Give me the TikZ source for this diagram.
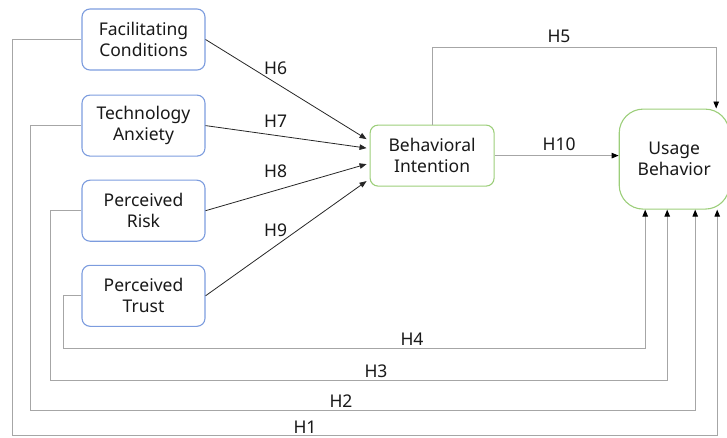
\documentclass[tikz,border=0pt]{standalone}
\usepackage{fontspec}
\setmainfont{Noto Sans}
\usetikzlibrary{arrows.meta, positioning, calc}

\definecolor{boxblue}{RGB}{124,156,222}
\definecolor{boxgreen}{RGB}{156,206,122}
\definecolor{linegray}{RGB}{166,166,166}

\begin{document}
\begin{tikzpicture}[
    x=1pt, y=1pt,
    construct/.style={rectangle, draw=boxblue, line width=1.1pt, rounded corners=8pt, minimum width=123pt, minimum height=61pt, font=\fontsize{17.5}{21}\selectfont, align=center, inner sep=2pt, text=black!90},
    outcome/.style={construct, draw=boxgreen, minimum width=124pt},
    direct/.style={-{Triangle[length=7pt,width=5.5pt]}, line width=0.8pt, black!85},
    fb/.style={-{Triangle[length=7pt,width=5.5pt,color=black]}, line width=0.9pt, linegray},
    hyp/.style={font=\fontsize{17.5}{20}\selectfont, inner sep=0pt, text=black!90}
]
\useasboundingbox (0,0) rectangle (727,-438);

% Antecedents
\node[construct] (fac) at (143.5,-39.5) {Facilitating\\Conditions};
\node[construct, below=24pt of fac] (anx) {Technology\\Anxiety};
\node[construct, below=23pt of anx] (risk) {Perceived\\Risk};
\node[construct, below=23pt of risk] (trust) {Perceived\\Trust};

% Intention
\node[outcome, right=164pt of anx, yshift=-30pt] (intent) {Behavioral\\Intention};

% Usage
\node[outcome, right=124pt of intent, yshift=-3.5pt, minimum width=110pt, minimum height=100pt, rounded corners=24pt] (usage) {Usage\\Behavior};

% Arrows to intention
\draw[direct] (fac.east) -- ([xshift=-3pt,yshift=16.5pt]intent.west) node[hyp, pos=0.435, above=8pt] (h6) {H6};
\draw[direct] (anx.east) -- ([xshift=-3pt,yshift=7.5pt]intent.west) node[hyp, pos=0.435, above=7pt] (h7) {H7};
\draw[direct] (risk.east) -- ([xshift=-3pt,yshift=-8.5pt]intent.west) node[hyp, pos=0.435, above=12pt] (h8) {H8};
\draw[direct] (trust.east) -- ([xshift=-3pt,yshift=-25.5pt]intent.west) node[hyp, pos=0.435, above=9pt] (h9) {H9};

% Intention to usage
\draw[fb] (intent.east) -- (intent.east -| usage.west) node[hyp, pos=0.52, above=4pt] (h10) {H10};
\draw[fb] (intent.north) -- ++(0,77) -| ([xshift=42pt]usage.north);
\node[hyp, above=4pt] (h5) at (559,-47) {H5};

% Direct paths to usage
\draw[fb] (fac.west) -| ++(-69,-396) -| ([xshift=43pt]usage.south);
\draw[fb] (anx.west) -| ++(-51,-284.5) -| ([xshift=21pt]usage.south);
\draw[fb] (risk.west) -| ++(-31,-169.5) -| ([xshift=-7pt]usage.south);
\draw[fb] (trust.west) -| ++(-18,-52.5) -| ([xshift=-29pt]usage.south);

% Labels
\node[hyp, anchor=south] (h1) at (305,-433.5) {H1};
\node[hyp, anchor=south] (h2) at (341,-408) {H2};
\node[hyp, anchor=south] (h3) at (376,-378) {H3};
\node[hyp, anchor=south] (h4) at (412,-346) {H4};

\end{tikzpicture}
\end{document}
